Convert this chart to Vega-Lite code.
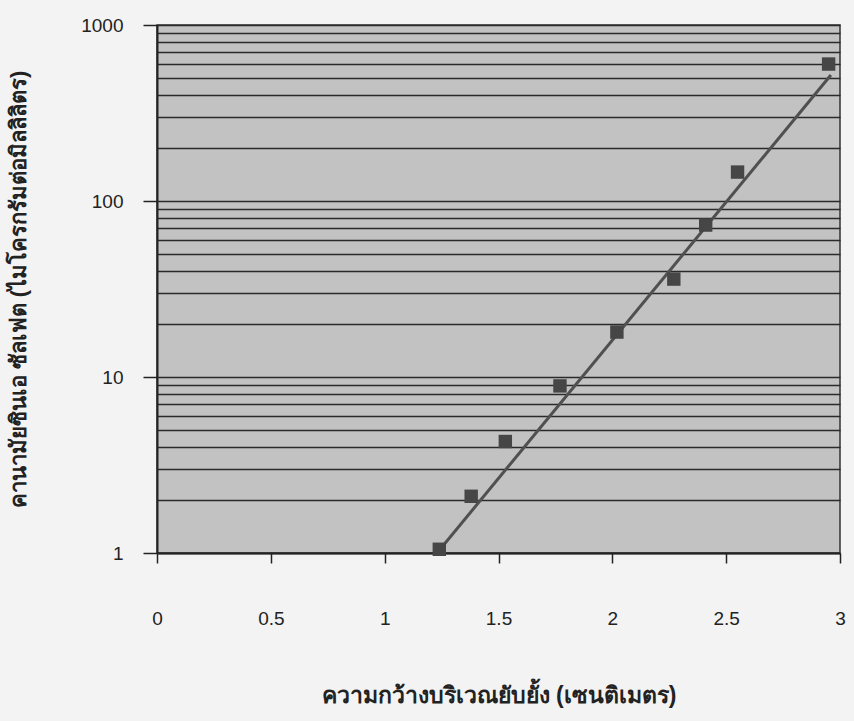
{
  "$schema": "https://vega.github.io/schema/vega-lite/v6.json",
  "width": 683,
  "height": 528,
  "autosize": "none",
  "padding": {"left": 157, "top": 25, "right": 14, "bottom": 168},
  "background": "#f3f3f3",
  "config": {
    "view": {"fill": "#c2c2c2", "stroke": "#333333", "strokeWidth": 1.5},
    "font": "Liberation Sans"
  },
  "datasets": {
    "points": [
      {"width": 1.24, "conc": 1.05},
      {"width": 1.38, "conc": 2.1},
      {"width": 1.53, "conc": 4.3},
      {"width": 1.77, "conc": 8.9},
      {"width": 2.02, "conc": 18},
      {"width": 2.27, "conc": 36},
      {"width": 2.41, "conc": 73},
      {"width": 2.55, "conc": 146},
      {"width": 2.95, "conc": 600}
    ],
    "trend": [
      {"width": 1.23, "conc": 1.0},
      {"width": 2.96, "conc": 520}
    ]
  },
  "layer": [
    {
      "data": {"name": "trend"},
      "mark": {"type": "line", "color": "#505050", "strokeWidth": 3},
      "encoding": {
        "x": {
          "field": "width", "type": "quantitative",
          "scale": {"domain": [0, 3], "nice": false},
          "axis": {
            "values": [0, 0.5, 1, 1.5, 2, 2.5, 3],
            "format": "~g",
            "title": "ความกว้างบริเวณยับยั้ง (เซนติเมตร)",
            "titleFontSize": 23, "titleFontWeight": "bold", "titleColor": "#222222",
            "titlePadding": 56,
            "labelFontSize": 19, "labelColor": "#222222", "labelPadding": 46,
            "labelFlush": false,
            "grid": false, "domainColor": "#222222", "domainWidth": 2,
            "tickColor": "#222222", "tickWidth": 1.5, "tickSize": 10
          }
        },
        "y": {
          "field": "conc", "type": "quantitative",
          "scale": {"type": "log", "domain": [1, 1000], "nice": false},
          "axis": {
            "values": [1, 2, 3, 4, 5, 6, 7, 8, 9, 10, 20, 30, 40, 50, 60, 70, 80, 90, 100, 200, 300, 400, 500, 600, 700, 800, 900, 1000],
            "labelExpr": "indexof([1,10,100,1000], datum.value) >= 0 ? format(datum.value, 'd') : ''",
            "tickOpacity": {"condition": {"test": "indexof([1,10,100,1000], datum.value) >= 0", "value": 1}, "value": 0},
            "title": "คานามัยซินเอ ซัลเฟต (ไมโครกรัมต่อมิลลิลิตร)",
            "titleFontSize": 22, "titleFontWeight": "bold", "titleColor": "#222222",
            "titlePadding": 50,
            "labelFontSize": 19, "labelColor": "#222222", "labelPadding": 20,
            "labelFlush": false,
            "grid": true, "gridColor": "#2a2a2a", "gridWidth": 1.5, "gridOpacity": 1,
            "domainColor": "#222222", "domainWidth": 2,
            "tickColor": "#222222", "tickWidth": 1.5, "tickSize": 14
          }
        }
      }
    },
    {
      "data": {"name": "points"},
      "mark": {"type": "square", "color": "#464646", "size": 180, "opacity": 1},
      "encoding": {
        "x": {"field": "width", "type": "quantitative"},
        "y": {"field": "conc", "type": "quantitative"}
      }
    }
  ]
}
